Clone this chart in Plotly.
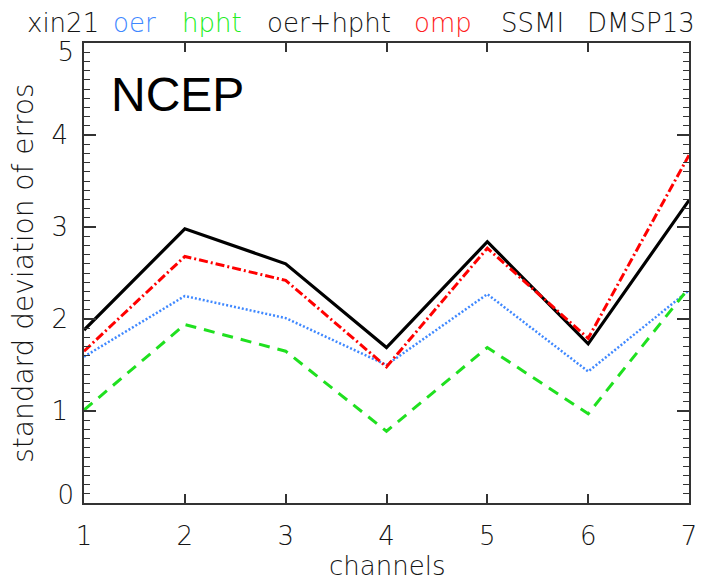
import plotly.graph_objects as go

channels = [1, 2, 3, 4, 5, 6, 7]
oer = [1.59, 2.25, 2.01, 1.50, 2.27, 1.43, 2.31]
hpht = [1.01, 1.94, 1.65, 0.78, 1.69, 0.97, 2.34]
oer_hpht = [1.88, 2.98, 2.60, 1.69, 2.84, 1.73, 3.29]
omp = [1.65, 2.68, 2.42, 1.48, 2.77, 1.79, 3.78]

x_ticks = [1, 2, 3, 4, 5, 6, 7]
y_ticks = [0, 1, 2, 3, 4, 5]

title_words = ["xin21", "oer", "hpht", "oer+hpht", "omp", "SSMI", "DMSP13"]
title_colors = ["#151515", "#3f88ff", "#22ee22", "#151515", "#ff2020", "#151515", "#151515"]
title_left_px = [25, 112, 182, 268, 417, 505, 593]

BLUE = "#3f88ff"
GREEN = "#1fe01f"
BLACK = "#000000"
RED = "#ff0000"
TXT = "#151515"
FONT = "DejaVu Sans"
WEIGHT = 200

# plot area in pixels
L, R, T, B = 84, 697, 43, 503
W, H = 707, 581
pw, ph = R - L, B - T

fig = go.Figure()
fig.add_trace(go.Scatter(x=channels, y=oer, mode="lines",
                         line=dict(color=BLUE, width=2.5, dash="2px,2px")))
fig.add_trace(go.Scatter(x=channels, y=hpht, mode="lines",
                         line=dict(color=GREEN, width=3, dash="11px,8px")))
fig.add_trace(go.Scatter(x=channels, y=oer_hpht, mode="lines",
                         line=dict(color=BLACK, width=3.2)))
fig.add_trace(go.Scatter(x=channels, y=omp, mode="lines",
                         line=dict(color=RED, width=3, dash="9px,3px,2px,3px")))
# empty traces to activate the overlay axes that carry the end labels
fig.add_trace(go.Scatter(x=[], y=[], yaxis="y2", hoverinfo="skip"))
fig.add_trace(go.Scatter(x=[], y=[], yaxis="y3", hoverinfo="skip"))

axis_line = dict(showline=True, linecolor="#333333", linewidth=1.5,
                 showgrid=False, zeroline=False)
tfont = dict(family=FONT, size=26, color=TXT, weight=WEIGHT)

fig.update_layout(
    width=W, height=H,
    margin=dict(l=L, r=W - R, t=T, b=H - B),
    paper_bgcolor="white", plot_bgcolor="white",
    showlegend=False,
    font=dict(family=FONT, color=TXT),
    xaxis=dict(range=[1, 7], tickvals=x_ticks, ticktext=[str(v) for v in x_ticks],
               ticks="inside", ticklen=9, tickwidth=1.5, tickcolor="#333333",
               mirror="ticks", tickfont=tfont,
               ticklabelstandoff=9, **axis_line),
    yaxis=dict(range=[0, 5], tickvals=y_ticks,
               ticktext=["" if v in (0, 5) else str(v) for v in y_ticks],
               ticks="inside", ticklen=12, tickwidth=1.5, tickcolor="#333333",
               mirror="ticks", tickfont=tfont,
               ticklabelstandoff=9,
               minor=dict(ticks="inside", ticklen=6, dtick=0.1, tickwidth=1,
                          tickcolor="#333333"),
               **axis_line),
    yaxis2=dict(overlaying="y", anchor="x", side="left", range=[0, 5],
                tickvals=[0], ticktext=["0"], ticks="", showline=False,
                showgrid=False, zeroline=False, tickfont=tfont,
                ticklabelstandoff=9, ticklabelshift=-8),
    yaxis3=dict(overlaying="y", anchor="x", side="left", range=[0, 5],
                tickvals=[5], ticktext=["5"], ticks="", showline=False,
                showgrid=False, zeroline=False, tickfont=tfont,
                ticklabelstandoff=9, ticklabelshift=9),
)

def px_x(p):
    return (p - L) / pw

def px_y(p):
    return (B - p) / ph

for word, col, lx in zip(title_words, title_colors, title_left_px):
    fig.add_annotation(text=word, xref="paper", yref="paper",
                       x=px_x(lx), y=px_y(23), xanchor="left", yanchor="middle",
                       showarrow=False, borderpad=0,
                       font=dict(family=FONT, size=26, color=col, weight=WEIGHT))

fig.add_annotation(text="NCEP", xref="paper", yref="paper",
                   x=px_x(179), y=px_y(94), xanchor="center", yanchor="middle",
                   showarrow=False,
                   font=dict(family="Liberation Sans", size=48, color="black"))

fig.add_annotation(text="standard deviation of erros", xref="paper", yref="paper",
                   x=px_x(22), y=0.5, xanchor="center", yanchor="middle",
                   textangle=-90, showarrow=False,
                   font=dict(family=FONT, size=28, color=TXT, weight=WEIGHT))

fig.add_annotation(text="channels", xref="paper", yref="paper",
                   x=0.5, y=px_y(566), xanchor="center", yanchor="middle",
                   showarrow=False,
                   font=dict(family=FONT, size=26, color=TXT, weight=WEIGHT))

fig.write_html("out.html")
